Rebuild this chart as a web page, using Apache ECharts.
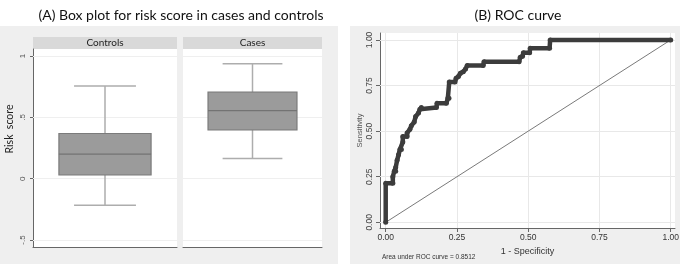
<!DOCTYPE html>
<html>
<head>
<meta charset="utf-8">
<script src="https://cdn.jsdelivr.net/npm/echarts@6/dist/echarts.min.js"></script>
<style>
  html, body { margin: 0; padding: 0; background: #fff; }
  #main { width: 685px; height: 271px; }
</style>
</head>
<body>
<div id="main"></div>
<script>
// Box plot data (risk score) --------------------------------------
const groups = ['Controls', 'Cases'];
const whiskerLow = [-0.217, 0.165];
const q1 = [0.03, 0.398];
const median = [0.2, 0.555];
const q3 = [0.368, 0.705];
const whiskerHigh = [0.756, 0.937];
const riskTicks = [-0.5, 0, 0.5, 1];
const riskTickLabels = ['-.5', '0', '.5', '1'];

// ROC curve data --------------------------------------------------
const fpr = [0, 0, 0.025, 0.025, 0.03, 0.035, 0.035, 0.04, 0.045, 0.05, 0.055, 0.06, 0.06,
    0.075, 0.075, 0.085, 0.09, 0.1, 0.105, 0.115, 0.12, 0.125, 0.178, 0.18, 0.213, 0.218,
    0.222, 0.223, 0.243, 0.247, 0.255, 0.262, 0.272, 0.28, 0.286, 0.342, 0.345, 0.468,
    0.472, 0.48, 0.483, 0.505, 0.507, 0.575, 0.577, 1.0];
const tpr = [0, 0.214, 0.214, 0.25, 0.28, 0.28, 0.30, 0.34, 0.37, 0.40, 0.40, 0.44, 0.47,
    0.47, 0.49, 0.51, 0.53, 0.55, 0.58, 0.60, 0.62, 0.63, 0.63, 0.653, 0.653, 0.68,
    0.68, 0.77, 0.77, 0.79, 0.80, 0.817, 0.826, 0.84, 0.86, 0.86, 0.88, 0.88,
    0.905, 0.91, 0.93, 0.93, 0.954, 0.954, 1.0, 1.0];
const refLine = [[0, 0], [1, 1]];
const rocTicks = [0, 0.25, 0.5, 0.75, 1];
const aucText = 'Area under ROC curve = 0.8512';

const chart = echarts.init(document.getElementById('main'));

const labelFont = 'Liberation Sans';
const headFont = 'Lato';

const boxRender = (params, api) => {
    const x = api.coord([api.value(0), 0])[0];
    const band = api.size([1, 0])[0];
    const boxW = band * 0.64;
    const capW = band * 0.43;
    const yLow = api.coord([0, api.value(1)])[1];
    const yQ1 = api.coord([0, api.value(2)])[1];
    const yMed = api.coord([0, api.value(3)])[1];
    const yQ3 = api.coord([0, api.value(4)])[1];
    const yHigh = api.coord([0, api.value(5)])[1];
    const whisker = {stroke: '#adadad', lineWidth: 1.5};
    return {
        type: 'group',
        children: [
            {type: 'line', shape: {x1: x, y1: yQ1, x2: x, y2: yLow}, style: whisker},
            {type: 'line', shape: {x1: x, y1: yQ3, x2: x, y2: yHigh}, style: whisker},
            {type: 'line', shape: {x1: x - capW / 2, y1: yLow, x2: x + capW / 2, y2: yLow}, style: whisker},
            {type: 'line', shape: {x1: x - capW / 2, y1: yHigh, x2: x + capW / 2, y2: yHigh}, style: whisker},
            {type: 'rect', shape: {x: x - boxW / 2, y: yQ3, width: boxW, height: yQ1 - yQ3},
                style: {fill: '#9b9b9b', stroke: '#7b7b7b', lineWidth: 1.2}},
            {type: 'line', shape: {x1: x - boxW / 2, y1: yMed, x2: x + boxW / 2, y2: yMed},
                style: {stroke: '#737373', lineWidth: 1.3}}
        ]
    };
};

const boxData = (i) => [[0, whiskerLow[i], q1[i], median[i], q3[i], whiskerHigh[i]]];

// faint gridlines, kept under the marks
const gridLines = (data, color) => ({
    z: 1,
    silent: true,
    symbol: 'none',
    label: {show: false},
    emphasis: {disabled: true},
    lineStyle: {color: color, width: 1, type: 'solid'},
    data: data
});

const riskAxis = (gridIndex, showLabels) => ({
    type: 'value',
    gridIndex: gridIndex,
    min: -0.557,
    max: 1.057,
    axisLine: {show: showLabels, lineStyle: {color: '#666', width: 1}},
    axisTick: {show: showLabels, customValues: riskTicks, length: 3, lineStyle: {color: '#666'}},
    axisLabel: {
        show: showLabels,
        customValues: riskTicks,
        rotate: 90,
        margin: 6,
        fontFamily: labelFont,
        fontSize: 8,
        color: '#555',
        formatter: (v) => riskTickLabels[riskTicks.indexOf(v)] ?? ''
    },
    splitLine: {show: false}
});

const groupAxis = (gridIndex, name) => ({
    type: 'category',
    gridIndex: gridIndex,
    data: [name],
    axisLine: {show: true, onZero: false, lineStyle: {color: '#666', width: 1}},
    axisTick: {show: false},
    axisLabel: {show: false}
});

const option = {
    animation: false,
    backgroundColor: '#fff',
    title: [
        {
            text: '(A) Box plot for risk score in cases and controls',
            left: 176, top: 3, textAlign: 'center',
            textStyle: {fontFamily: headFont, fontSize: 14, fontWeight: 'normal', color: '#111'}
        },
        {
            text: '(B) ROC curve',
            left: 513, top: 3, textAlign: 'center',
            textStyle: {fontFamily: headFont, fontSize: 14, fontWeight: 'normal', color: '#111'}
        }
    ],
    graphic: [
        {type: 'rect', z: -10, shape: {x: 0, y: 26, width: 338, height: 238}, style: {fill: '#efefef'}},
        {type: 'rect', z: -10, shape: {x: 350, y: 26, width: 330, height: 238}, style: {fill: '#efefef'}},
        {type: 'rect', shape: {x: 33, y: 37, width: 144, height: 12}, style: {fill: '#d9d9d9'}},
        {type: 'rect', shape: {x: 183, y: 37, width: 139, height: 12}, style: {fill: '#d9d9d9'}},
        {type: 'text', x: 105, y: 43, style: {text: groups[0], fontFamily: headFont, fontSize: 10,
            fill: '#222', align: 'center', verticalAlign: 'middle'}},
        {type: 'text', x: 252.5, y: 43, style: {text: groups[1], fontFamily: headFont, fontSize: 10,
            fill: '#222', align: 'center', verticalAlign: 'middle'}},
        {type: 'text', x: 10, y: 129, rotation: Math.PI / 2, style: {text: 'Risk  score', fontFamily: headFont,
            fontSize: 10.5, fill: '#222', align: 'center', verticalAlign: 'middle'}},
        {type: 'text', x: 382, y: 257, style: {text: aucText, fontFamily: labelFont, fontSize: 6.5,
            fill: '#333', align: 'left', verticalAlign: 'middle'}}
    ],
    grid: [
        {left: 33, top: 49, width: 144, height: 198, show: true, backgroundColor: '#fff', borderWidth: 0},
        {left: 183, top: 49, width: 139, height: 198, show: true, backgroundColor: '#fff', borderWidth: 0},
        {left: 380, top: 33, width: 295, height: 195, show: true, backgroundColor: '#fff', borderWidth: 0}
    ],
    xAxis: [
        groupAxis(0, groups[0]),
        groupAxis(1, groups[1]),
        {
            type: 'value',
            gridIndex: 2,
            min: -0.02,
            max: 1.015,
            name: '1 - Specificity',
            nameLocation: 'middle',
            nameGap: 13,
            nameTextStyle: {fontFamily: labelFont, fontSize: 9, color: '#333'},
            axisLine: {show: true, onZero: false, lineStyle: {color: '#666'}},
            axisTick: {show: true, customValues: rocTicks, length: 4, lineStyle: {color: '#666'}},
            axisLabel: {customValues: rocTicks, fontFamily: labelFont, fontSize: 8.5, color: '#333', margin: 5,
                formatter: (v) => v.toFixed(2)},
            splitLine: {show: false}
        }
    ],
    yAxis: [
        riskAxis(0, true),
        riskAxis(1, false),
        {
            type: 'value',
            gridIndex: 2,
            min: -0.031,
            max: 1.038,
            name: 'Sensitivity',
            nameLocation: 'middle',
            nameRotate: 90,
            nameGap: 16,
            nameTextStyle: {fontFamily: labelFont, fontSize: 7.5, color: '#555'},
            axisLine: {show: true, onZero: false, lineStyle: {color: '#666'}},
            axisTick: {show: true, customValues: rocTicks, length: 4, lineStyle: {color: '#666'}},
            axisLabel: {customValues: rocTicks, rotate: 90, fontFamily: labelFont, fontSize: 8.5, color: '#444',
                margin: 6, formatter: (v) => v.toFixed(2)},
            splitLine: {show: false}
        }
    ],
    series: [
        {
            type: 'custom',
            xAxisIndex: 0, yAxisIndex: 0,
            renderItem: boxRender,
            data: boxData(0),
            markLine: gridLines(riskTicks.map(v => ({yAxis: v})), '#efefef'),
            z: 3
        },
        {
            type: 'custom',
            xAxisIndex: 1, yAxisIndex: 1,
            renderItem: boxRender,
            data: boxData(1),
            markLine: gridLines(riskTicks.map(v => ({yAxis: v})), '#efefef'),
            z: 3
        },
        {
            type: 'line',
            xAxisIndex: 2, yAxisIndex: 2,
            data: refLine,
            symbol: 'none',
            lineStyle: {color: '#7a7a7a', width: 1},
            markLine: gridLines(rocTicks.map(v => ({xAxis: v})).concat(rocTicks.map(v => ({yAxis: v}))), '#e8e8e8'),
            z: 2
        },
        {
            type: 'line',
            xAxisIndex: 2, yAxisIndex: 2,
            data: fpr.map((v, i) => [v, tpr[i]]),
            symbol: 'circle',
            symbolSize: 5,
            itemStyle: {color: '#3c3c3c'},
            lineStyle: {color: '#3c3c3c', width: 4.5},
            z: 4
        }
    ]
};

chart.setOption(option);
</script>
</body>
</html>
